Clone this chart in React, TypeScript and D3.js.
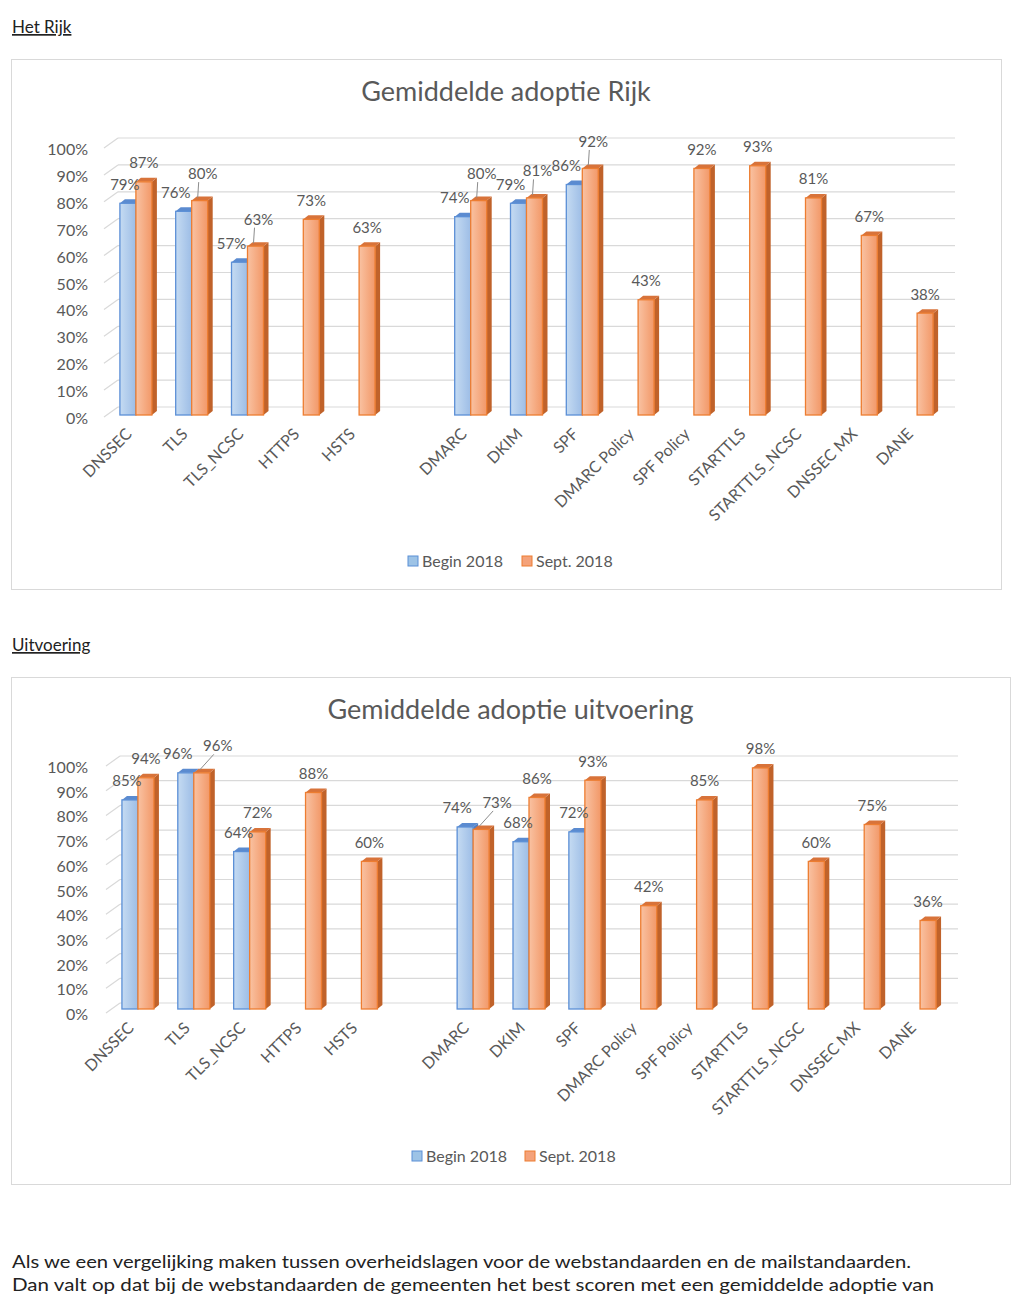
import React from "react";
import * as d3 from "d3";

const categories = [
  "DNSSEC", "TLS", "TLS_NCSC", "HTTPS", "HSTS", "",
  "DMARC", "DKIM", "SPF", "DMARC Policy", "SPF Policy",
  "STARTTLS", "STARTTLS_NCSC", "DNSSEC MX", "DANE",
];
const seriesNames = ["Begin 2018", "Sept. 2018"];
const rijkBegin = [79, 76, 57, null, null, null, 74, 79, 86, null, null, null, null, null, null];
const rijkSept = [87, 80, 63, 73, 63, null, 80, 81, 92, 43, 92, 93, 81, 67, 38];
const uitBegin = [85, 96, 64, null, null, null, 74, 68, 72, null, null, null, null, null, null];
const uitSept = [94, 96, 72, 88, 60, null, 73, 86, 93, 42, 85, 98, 60, 75, 36];
const yTicks = [0, 10, 20, 30, 40, 50, 60, 70, 80, 90, 100];

const FONT = "Lato, 'Open Sans', sans-serif";
const GRAY = "#595959";

type Cfg = {
  id: string;
  title: string;
  begin: (number | null)[];
  sept: (number | null)[];
  box: { x: number; y: number; w: number; h: number };
  titleY: number;
  xRange: [number, number];
  base: number;
  top: number;
  depth0: number;
  depth100: number;
  legendY: number;
  legendBlue: number;
  legendOrange: number;
};

function Chart({ c }: { c: Cfg }) {
  const x = d3.scaleBand<string>().domain(categories.map((d, i) => i + ":" + d)).range(c.xRange);
  const yF = d3.scaleLinear().domain([0, 100]).range([c.base, c.top]);
  const depth = d3.scaleLinear().domain([0, 100]).range([c.depth0, c.depth100]);
  const yB = (v: number) => yF(v) - depth(v);
  const gridL = c.xRange[0] + 10;
  const gridR = c.xRange[1] + 10;
  const bw = 16;
  const dd = 5;
  const ddy = 4;
  const LFS = 15;

  const bar = (x0: number, v: number, kind: "b" | "o", key: string) => {
    const y0 = yF(v);
    const b = c.base;
    const front = kind === "b" ? `url(#gb-${c.id})` : `url(#go-${c.id})`;
    const stroke = kind === "b" ? "#5b8fd6" : "#ed7d31";
    const side = kind === "b" ? "#4f7fc4" : "#c0622a";
    const topC = kind === "b" ? "#5b8bd0" : "#d8733a";
    return (
      <g key={key}>
        <polygon
          points={`${x0 + bw},${y0} ${x0 + bw + dd},${y0 - ddy} ${x0 + bw + dd},${b - ddy} ${x0 + bw},${b}`}
          fill={side}
        />
        <polygon
          points={`${x0},${y0} ${x0 + dd},${y0 - ddy} ${x0 + bw + dd},${y0 - ddy} ${x0 + bw},${y0}`}
          fill={topC}
        />
        <rect x={x0} y={y0} width={bw} height={b - y0} fill={front} stroke={stroke} strokeWidth={1.3} />
      </g>
    );
  };

  return (
    <g>
      <defs>
        <linearGradient id={`gb-${c.id}`} x1="0" x2="1" y1="0" y2="0">
          <stop offset="0" stopColor="#c5dbf2" />
          <stop offset="1" stopColor="#9dbde6" />
        </linearGradient>
        <linearGradient id={`go-${c.id}`} x1="0" x2="1" y1="0" y2="0">
          <stop offset="0" stopColor="#f9c2a2" />
          <stop offset="1" stopColor="#f29868" />
        </linearGradient>
      </defs>
      <rect x={c.box.x + 0.5} y={c.box.y + 0.5} width={c.box.w} height={c.box.h} fill="#fff" stroke="#d9d9d9" strokeWidth={1} />
      <text x={(c.box.x * 2 + c.box.w) / 2} y={c.titleY} textAnchor="middle" fontFamily={FONT} fontSize={27} fill={GRAY}>
        {c.title}
      </text>
      {yTicks.map((t) => (
        <g key={t}>
          <line x1={gridL} x2={gridR} y1={yB(t)} y2={yB(t)} stroke="#d9d9d9" strokeWidth={1.2} />
          <line x1={gridL - 14} x2={gridL} y1={yB(t) + 10} y2={yB(t)} stroke="#d9d9d9" strokeWidth={1.2} />
          <text x={88} y={yB(t) + 17} textAnchor="end" fontFamily={FONT} fontSize={16} fill={GRAY}>
            {t}%
          </text>
        </g>
      ))}
      {categories.map((cat, i) => {
        const cx = (x(i + ":" + cat) as number) + x.bandwidth() / 2;
        const vb = c.begin[i];
        const vo = c.sept[i];
        const close = vb != null && vo != null && Math.abs(vb - vo) <= 7;
        const level = close && vb != null && vo != null && vo <= vb + 1;
        const oLx = cx + bw / 2 + (close ? (level ? 16 : 3) : 0);
        const oLy = vo != null ? yF(vo) - (close ? 21.5 : 13.5) : 0;
        const bLx = cx - bw / 2 - (close ? 8 : 3);
        return (
          <g key={i}>
            {vb != null && bar(cx - bw, vb, "b", "b")}
            {vo != null && bar(cx, vo, "o", "o")}
            {vb != null && (
              <text x={bLx} y={yF(vb) - 13.5} textAnchor="middle" fontFamily={FONT} fontSize={LFS} fill={GRAY}>
                {vb}%
              </text>
            )}
            {vo != null && (
              <text x={oLx} y={oLy} textAnchor="middle" fontFamily={FONT} fontSize={LFS} fill={GRAY}>
                {vo}%
              </text>
            )}
            {close && vo != null && (
              <line
                x1={oLx - 4}
                y1={oLy + 3}
                x2={cx + bw / 2 - 2}
                y2={yF(vo) - 3}
                stroke="#8c8c8c"
                strokeWidth={1}
              />
            )}
            {cat && (
              <text
                transform={`translate(${cx - 3},${c.base + 20}) rotate(-45)`}
                textAnchor="end"
                fontFamily={FONT}
                fontSize={16}
                fill={GRAY}
              >
                {cat}
              </text>
            )}
          </g>
        );
      })}
      <g fontFamily={FONT} fontSize={16} fill={GRAY}>
        <rect x={c.legendBlue} y={c.legendY - 5} width={10} height={10} fill="#9dc3e6" stroke="#5b8fd6" />
        <text x={c.legendBlue + 14} y={c.legendY + 5.5}>{seriesNames[0]}</text>
        <rect x={c.legendOrange} y={c.legendY - 5} width={10} height={10} fill="#f4a27a" stroke="#ed7d31" />
        <text x={c.legendOrange + 14} y={c.legendY + 5.5}>{seriesNames[1]}</text>
      </g>
    </g>
  );
}

const chart1: Cfg = {
  id: "rijk",
  title: "Gemiddelde adoptie Rijk",
  begin: rijkBegin,
  sept: rijkSept,
  box: { x: 11, y: 59, w: 990, h: 530 },
  titleY: 101,
  xRange: [108, 945],
  base: 415,
  top: 147,
  depth0: 8,
  depth100: 9,
  legendY: 561,
  legendBlue: 408,
  legendOrange: 522,
};

const chart2: Cfg = {
  id: "uit",
  title: "Gemiddelde adoptie uitvoering",
  begin: uitBegin,
  sept: uitSept,
  box: { x: 11, y: 677, w: 999, h: 507 },
  titleY: 719,
  xRange: [110, 948],
  base: 1009,
  top: 763,
  depth0: 6,
  depth100: 7,
  legendY: 1156,
  legendBlue: 412,
  legendOrange: 525,
};

export default function App() {
  return (
    <svg
      width={1024}
      height={1314}
      style={{ position: "absolute", left: 0, top: 0, background: "#fff" }}
    >
      <rect width={1024} height={1314} fill="#fff" />
      <text x={12} y={33} fontFamily={FONT} fontSize={17} fill="#222" textDecoration="underline">
        Het Rijk
      </text>
      <Chart c={chart1} />
      <text x={12} y={651} fontFamily={FONT} fontSize={17} fill="#222" textDecoration="underline">
        Uitvoering
      </text>
      <Chart c={chart2} />
      <text x={12} y={1268} fontFamily={FONT} fontSize={17} fill="#222" textLength={899} lengthAdjust="spacingAndGlyphs">
        Als we een vergelijking maken tussen overheidslagen voor de webstandaarden en de mailstandaarden.
      </text>
      <text x={12} y={1291} fontFamily={FONT} fontSize={17} fill="#222" textLength={922} lengthAdjust="spacingAndGlyphs">
        Dan valt op dat bij de webstandaarden de gemeenten het best scoren met een gemiddelde adoptie van
      </text>
    </svg>
  );
}
